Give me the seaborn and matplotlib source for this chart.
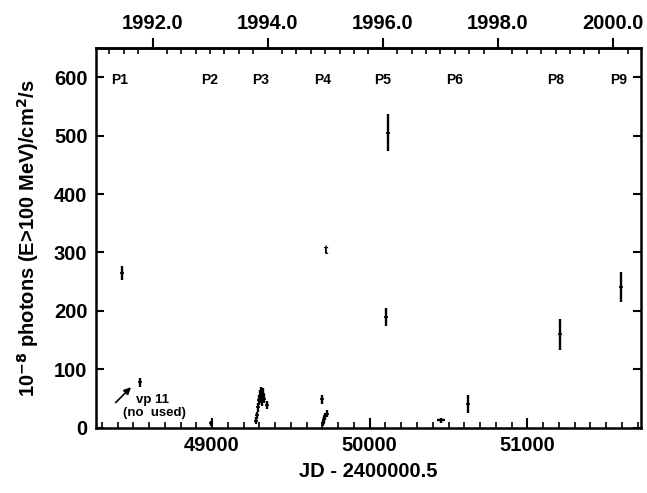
import matplotlib
matplotlib.use("Agg")
import matplotlib.pyplot as plt
import numpy as np
import pandas as pd
import seaborn as sns
from matplotlib.ticker import FixedLocator, FuncFormatter, MultipleLocator

# light curve points: MJD, flux (10^-8 ph/cm2/s), errors
mjd = [48431, 48545, 48996,
       49280, 49285, 49292, 49298, 49303, 49308, 49313, 49318, 49323, 49327, 49350,
       49695, 49701, 49710, 49718, 49726,
       50105, 50115, 50452, 50622, 51208, 51595]
flux = [265, 78, 8,
        12, 22, 35, 48, 55, 60, 52, 45, 58, 50, 39,
        49, 8, 15, 20, 24,
        190, 505, 13, 41, 160, 241]
flux_err = [12, 8, 4,
            6, 6, 8, 9, 10, 10, 9, 8, 10, 8, 7,
            8, 5, 6, 6, 6,
            15, 32, 4, 15, 26, 26]
mjd_err = [0, 0, 0,
           0, 0, 0, 0, 0, 0, 0, 0, 0, 0, 0,
           0, 0, 0, 0, 0,
           0, 0, 27, 0, 0, 0]

# viewing period labels
period_names = ["P1", "P2", "P3", "P4", "P5", "P6", "P8", "P9"]
period_mjd = [48414, 48985, 49307, 49699, 50081, 50541, 51181, 51578]

df = pd.DataFrame({"mjd": mjd, "flux": flux})

sns.set_theme(style="ticks")
plt.rcParams['font.family'] = ['Liberation Sans', 'DejaVu Sans']
plt.rcParams['font.weight'] = 'bold'
for key in ['text.color', 'axes.labelcolor', 'xtick.color', 'ytick.color', 'axes.edgecolor']:
    plt.rcParams[key] = 'black'

fig = plt.figure(figsize=(6.47, 4.93), dpi=100)
ax = fig.add_axes([0.148, 0.132, 0.843, 0.771])

ax.errorbar(mjd, flux, yerr=flux_err, xerr=mjd_err, fmt='none',
            ecolor='black', elinewidth=1.7, capsize=0)
sns.scatterplot(data=df, x="mjd", y="flux", ax=ax, marker='_', s=10,
                color='black', linewidth=1.2, legend=False)

for name, m in zip(period_names, period_mjd):
    ax.text(m, 595, name, ha='center', va='center', fontsize=10, fontweight='bold')

ax.text(49722, 303, "t", ha='center', va='center', fontsize=9.5, fontweight='bold')

ax.annotate("", xy=(48498, 73), xytext=(48376, 40),
            arrowprops=dict(arrowstyle='-|>', color='black', lw=1.2, mutation_scale=10))
ax.text(48520, 48, "vp 11", ha='left', va='center', fontsize=9.5, fontweight='bold')
ax.text(48435, 25, "(no  used)", ha='left', va='center', fontsize=9.5, fontweight='bold')

ax.set_xlim(48262, 51722)
ax.set_ylim(0, 650)

ax.xaxis.set_major_locator(MultipleLocator(1000))
ax.xaxis.set_minor_locator(MultipleLocator(100))
ax.set_yticks(np.arange(0, 601, 100))

ax.tick_params(axis='both', which='major', direction='in', length=6, width=1.5,
               labelsize=14.5, right=True, pad=6)
ax.tick_params(axis='x', which='minor', direction='in', length=4, width=1.2)
ax.tick_params(axis='x', which='major', length=7)
ax.tick_params(axis='y', which='both', right=True)
for lab in ax.get_xticklabels() + ax.get_yticklabels():
    lab.set_fontweight('bold')

for sp in ax.spines.values():
    sp.set_linewidth(1.8)
    sp.set_color('black')
    sp.set_visible(True)


def mjd2yr(x):
    return 2000.0 + (np.asarray(x) - 51544.0) / 365.25


def yr2mjd(y):
    return 51544.0 + (np.asarray(y) - 2000.0) * 365.25


top = ax.secondary_xaxis('top', functions=(mjd2yr, yr2mjd))
top.xaxis.set_major_locator(FixedLocator([1992, 1994, 1996, 1998, 2000]))
top.xaxis.set_minor_locator(MultipleLocator(0.25))
top.xaxis.set_major_formatter(FuncFormatter(lambda v, p: f"{v:.1f}"))
top.tick_params(which='major', direction='out', length=7, width=1.5, labelsize=14.5, pad=4)
top.tick_params(which='minor', direction='in', length=4, width=1.2)
for lab in top.get_xticklabels():
    lab.set_fontweight('bold')
top.spines['top'].set_linewidth(1.8)

ax.set_xlabel("JD - 2400000.5", fontsize=14.5, fontweight='bold', labelpad=5)
ax.set_ylabel(r"10$^{\mathbf{-8}}$ photons (E>100 MeV)/cm$^{\mathbf{2}}$/s",
              fontsize=14.5, fontweight='bold', labelpad=9)

fig.savefig("out.png", dpi=100)
